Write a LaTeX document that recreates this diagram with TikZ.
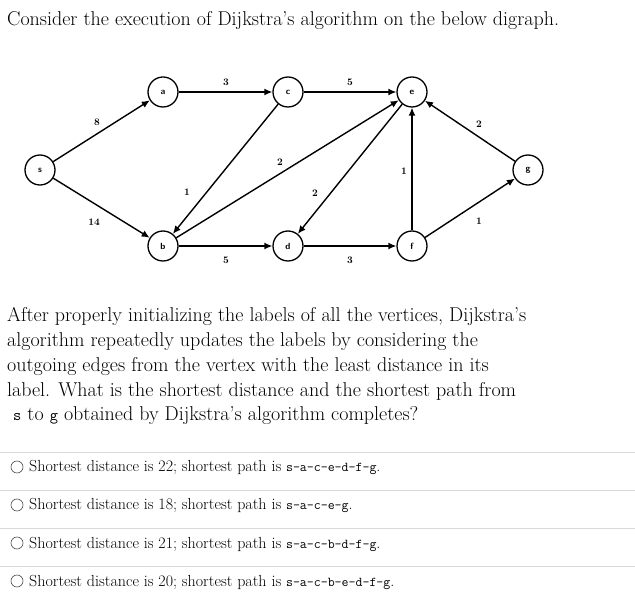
\documentclass[tikz,border=0pt]{standalone}
\usetikzlibrary{arrows.meta}
\begin{document}
\begin{tikzpicture}[x=1pt,y=-1pt,
  vtx/.style={circle,draw,line width=1.3pt,minimum size=30pt,inner sep=0pt,font=\sffamily\bfseries\fontsize{9}{10}\selectfont},
  edge/.style={-{Latex[length=8pt,width=7pt]},line width=1.4pt},
  wt/.style={font=\fontsize{10}{11}\selectfont\bfseries},
  txt/.style={anchor=base west,inner sep=0pt,font=\fontsize{20}{24}\selectfont},
  otxt/.style={anchor=base west,inner sep=0pt,font=\fontsize{16}{19}\selectfont},
  sep/.style={draw=black!15,line width=0.8pt},
  radio/.style={circle,draw=black!70,line width=0.6pt,minimum size=12pt,inner sep=0pt}]
\newcommand{\mtt}[1]{{\fontsize{13.5}{16}\selectfont\texttt{#1}}}
\newcommand{\ptt}[1]{{\fontsize{16}{18}\selectfont\texttt{#1}}}
\useasboundingbox (0,0) rectangle (635,601);
\node[txt] (t0) at (7,26) {Consider the execution of Dijkstra's algorithm on the below digraph.};
\node[vtx] (s) at (40,170) {s};
\node[vtx] (a) at (163,92) {a};
\node[vtx] (c) at (288,92) {c};
\node[vtx] (e) at (412,92) {e};
\node[vtx] (g) at (528,170) {g};
\node[vtx] (b) at (163,246) {b};
\node[vtx] (d) at (288,246) {d};
\node[vtx] (f) at (412,246) {f};
\draw[edge] (s) -- (a);
\draw[edge] (s) -- (b);
\draw[edge] (a) -- (c);
\draw[edge] (c) -- (e);
\draw[edge] (c) -- (b);
\draw[edge] (b) -- (e);
\draw[edge] (e) -- (d);
\draw[edge] (f) -- (e);
\draw[edge] (g) -- (e);
\draw[edge] (b) -- (d);
\draw[edge] (d) -- (f);
\draw[edge] (f) -- (g);
\node[wt] (w1) at (97,122) {8};
\node[wt] (w2) at (94,222) {14};
\node[wt] (w3) at (226,82) {3};
\node[wt] (w4) at (350,82) {5};
\node[wt] (w5) at (479,124) {2};
\node[wt] (w6) at (187,192) {1};
\node[wt] (w7) at (280,162) {2};
\node[wt] (w8) at (315,193) {2};
\node[wt] (w9) at (404,171) {1};
\node[wt] (w10) at (479,221) {1};
\node[wt] (w11) at (226,260) {5};
\node[wt] (w12) at (350,260) {3};
\node[txt] (p1) at (7,322) {After properly initializing the labels of all the vertices, Dijkstra's};
\node[txt] (p2) at (7,347) {algorithm repeatedly updates the labels by considering the};
\node[txt] (p3) at (7,372) {outgoing edges from the vertex with the least distance in its};
\node[txt] (p4) at (7,397) {label. What is the shortest distance and the shortest path from};
\node[txt] (p5) at (7,421) {\hspace{6pt}\ptt{s} to \ptt{g} obtained by Dijkstra's algorithm completes?};
\foreach \y in {452,490,528,566} \draw[sep] (0,\y) -- (635,\y);
\foreach \y/\n/\t in {467/o1/{Shortest distance is 22; shortest path is \mtt{s-a-c-e-d-f-g}.},
  505/o2/{Shortest distance is 18; shortest path is \mtt{s-a-c-e-g}.},
  543/o3/{Shortest distance is 21; shortest path is \mtt{s-a-c-b-d-f-g}.},
  581/o4/{Shortest distance is 20; shortest path is \mtt{s-a-c-b-e-d-f-g}.}} {
  \node[radio] (r\n) at (17,\y) {};
  \node[otxt] (\n) at (29,\y+5) {\t};
}
\end{tikzpicture}
\end{document}
